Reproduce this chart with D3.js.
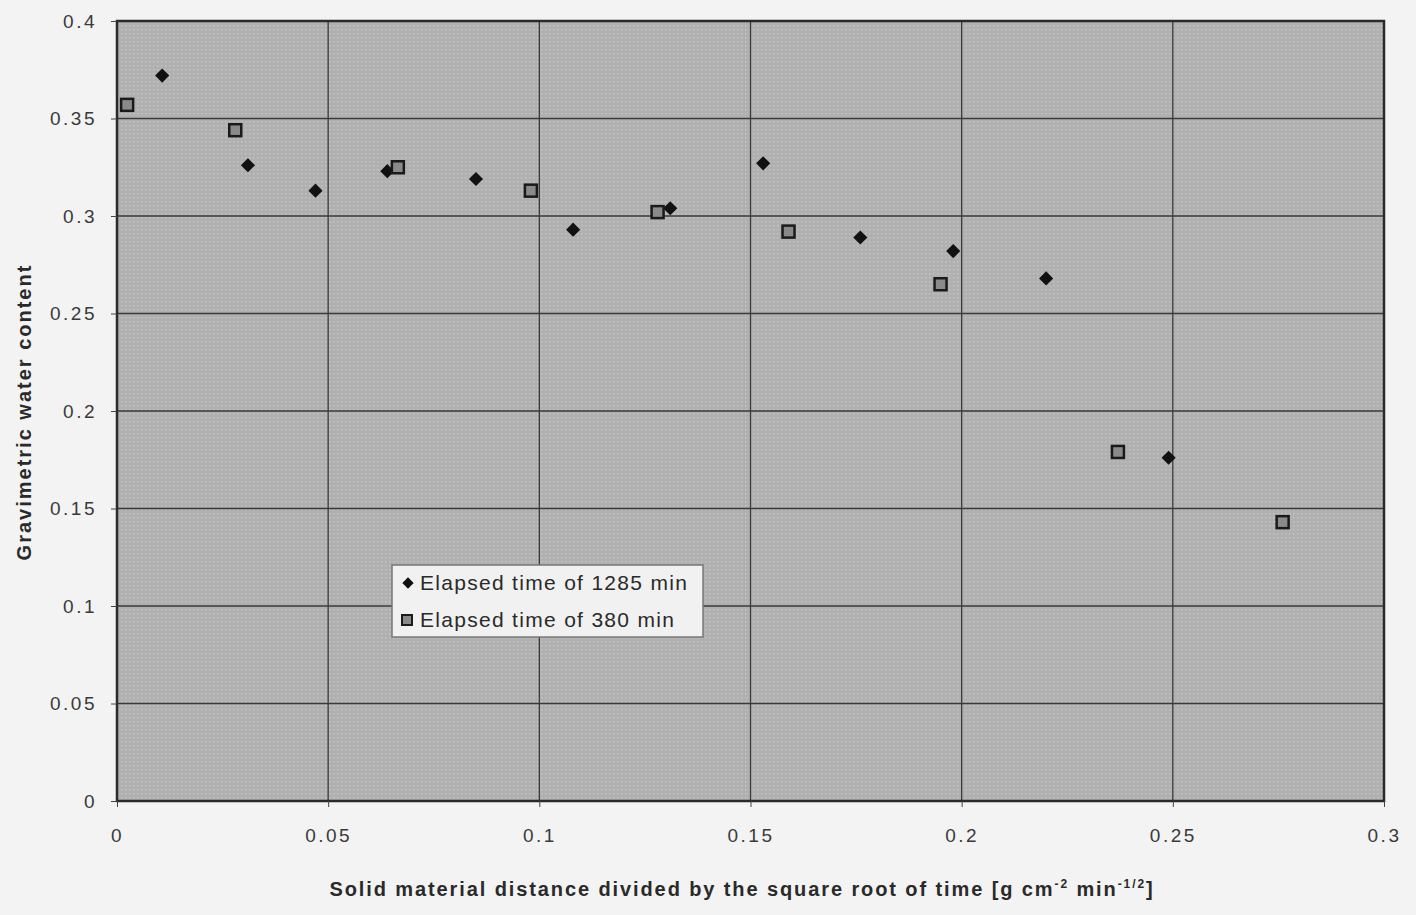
<!DOCTYPE html>
<html><head><meta charset="utf-8">
<script src="https://cdn.jsdelivr.net/npm/d3@7"></script>
<style>body{margin:0;background:#f3f3f3;}svg{display:block;font-family:"Liberation Sans",Arial,sans-serif;}</style>
</head><body>
<script>
const seriesNames = ["Elapsed time of 1285 min", "Elapsed time of 380 min"];
const x1285 = [0.0107,0.031,0.047,0.064,0.085,0.108,0.131,0.153,0.176,0.198,0.220,0.249];
const y1285 = [0.372,0.326,0.313,0.323,0.319,0.293,0.304,0.327,0.289,0.282,0.268,0.176];
const x380 = [0.0024,0.028,0.0665,0.098,0.128,0.159,0.195,0.237,0.276];
const y380 = [0.357,0.344,0.325,0.313,0.302,0.292,0.265,0.179,0.143];
const xTicks = [0,0.05,0.1,0.15,0.2,0.25,0.3];
const yTicks = [0,0.05,0.1,0.15,0.2,0.25,0.3,0.35,0.4];
const xTitle = "Solid material distance divided by the square root of time [g cm";
const yTitle = "Gravimetric water content";

const W=1416,H=915;
const m={left:117,right:1384,top:21,bottom:801};
const svg=d3.select("body").append("svg").attr("width",W).attr("height",H);
const x=d3.scaleLinear().domain([0,0.3]).range([m.left,m.right]);
const y=d3.scaleLinear().domain([0,0.4]).range([m.bottom,m.top]);

const defs=svg.append("defs");
const pat=defs.append("pattern").attr("id","dots").attr("width",4).attr("height",4).attr("patternUnits","userSpaceOnUse");
pat.append("rect").attr("width",4).attr("height",4).attr("fill","#b0b0b0");
pat.append("rect").attr("x",1).attr("y",1).attr("width",1.5).attr("height",1.5).attr("fill","#c3c3c3");

svg.append("rect").attr("x",m.left).attr("y",m.top).attr("width",m.right-m.left).attr("height",m.bottom-m.top).attr("fill","url(#dots)");

// gridlines
svg.append("g").selectAll("line").data(yTicks).join("line")
  .attr("x1",m.left).attr("x2",m.right).attr("y1",d=>y(d)).attr("y2",d=>y(d))
  .attr("stroke","#3a3a3a").attr("stroke-width",1.3);
svg.append("g").selectAll("line").data(xTicks).join("line")
  .attr("y1",m.top).attr("y2",m.bottom).attr("x1",d=>x(d)).attr("x2",d=>x(d))
  .attr("stroke","#3a3a3a").attr("stroke-width",1.3);

svg.append("rect").attr("x",m.left).attr("y",m.top).attr("width",m.right-m.left).attr("height",m.bottom-m.top)
  .attr("fill","none").attr("stroke","#2a2a2a").attr("stroke-width",2.5);

// axes
const fmt=d=>String(d);
const xa=svg.append("g").attr("transform",`translate(0,${m.bottom})`)
  .call(d3.axisBottom(x).tickValues(xTicks).tickFormat(fmt).tickSize(6).tickPadding(22));
const ya=svg.append("g").attr("transform",`translate(${m.left},0)`)
  .call(d3.axisLeft(y).tickValues(yTicks).tickFormat(fmt).tickSize(6).tickPadding(14));
[xa,ya].forEach(a=>{a.select(".domain").remove();
  a.selectAll("line").attr("stroke","#444");
  a.selectAll("text").attr("font-size",19).attr("letter-spacing",2.5).attr("fill","#3a3a3a").attr("font-family","Liberation Sans, Arial, sans-serif");});

// titles
const xt=svg.append("text").attr("x",742).attr("y",896).attr("text-anchor","middle")
  .attr("font-size",20).attr("letter-spacing",1.9).attr("font-weight","bold").attr("fill","#2a2a2a");
xt.append("tspan").text(xTitle);
xt.append("tspan").attr("dy",-8).attr("font-size",12).text("-2");
xt.append("tspan").attr("dy",8).text(" min");
xt.append("tspan").attr("dy",-8).attr("font-size",12).text("-1/2");
xt.append("tspan").attr("dy",8).text("]");
svg.append("text").attr("transform","translate(31,412) rotate(-90)").attr("text-anchor","middle")
  .attr("font-size",20).attr("letter-spacing",2).attr("font-weight","bold").attr("fill","#2a2a2a").text(yTitle);

// markers
const diamond=d3.symbol().type(d3.symbolSquare).size(100);
const d1=x1285.map((v,i)=>({x:v,y:y1285[i]}));
const d2=x380.map((v,i)=>({x:v,y:y380[i]}));
svg.append("g").selectAll("path").data(d1).join("path")
  .attr("d",diamond).attr("transform",d=>`translate(${x(d.x)},${y(d.y)}) rotate(45)`).attr("fill","#111");
svg.append("g").selectAll("rect").data(d2).join("rect")
  .attr("x",d=>x(d.x)-6).attr("y",d=>y(d.y)-6).attr("width",12).attr("height",12)
  .attr("fill","#8a8a8a").attr("stroke","#1a1a1a").attr("stroke-width",2.5);

// legend
const lg=svg.append("g");
lg.append("rect").attr("x",392).attr("y",565).attr("width",311).attr("height",72)
  .attr("fill","#f1f1f1").attr("stroke","#777").attr("stroke-width",1.5);
lg.append("path").attr("d",d3.symbol().type(d3.symbolSquare).size(64)).attr("transform","translate(408,583) rotate(45)").attr("fill","#111");
lg.append("rect").attr("x",402).attr("y",615).attr("width",10).attr("height",10).attr("fill","#8a8a8a").attr("stroke","#1a1a1a").attr("stroke-width",2);
lg.selectAll("text.l").data(seriesNames).join("text").attr("class","l")
  .attr("x",420).attr("y",(d,i)=>590+i*37).attr("font-size",21).attr("letter-spacing",1.3).attr("fill","#2a2a2a").text(d=>d);
</script>
</body></html>
